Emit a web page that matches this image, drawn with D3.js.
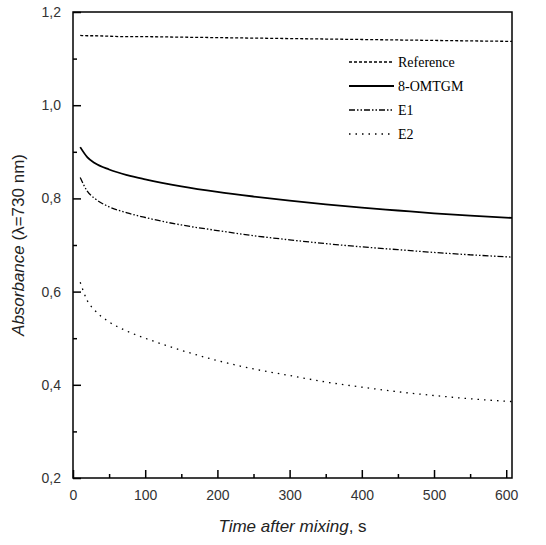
<!DOCTYPE html>
<html><head><meta charset="utf-8">
<script src="https://cdn.jsdelivr.net/npm/d3@7"></script>
<style>body{margin:0;background:#fff}</style>
</head><body>
<svg id="chart" width="546" height="545"></svg>
<script>
// values
const times = [10, 20, 30, 50, 75, 100, 150, 200, 250, 300, 350, 400, 450, 500, 550, 608]
const reference = [1.150, 1.149, 1.149, 1.148, 1.147, 1.147, 1.146, 1.145, 1.144, 1.143, 1.142, 1.141, 1.140, 1.139, 1.138, 1.137]
const omtgm = [0.910, 0.888, 0.876, 0.862, 0.850, 0.841, 0.826, 0.814, 0.804, 0.795, 0.787, 0.780, 0.774, 0.768, 0.763, 0.758]
const e1 = [0.845, 0.815, 0.800, 0.782, 0.769, 0.759, 0.743, 0.731, 0.720, 0.711, 0.703, 0.696, 0.690, 0.684, 0.679, 0.674]
const e2 = [0.620, 0.580, 0.560, 0.535, 0.515, 0.500, 0.474, 0.452, 0.434, 0.420, 0.406, 0.395, 0.385, 0.377, 0.370, 0.364]
const xTicks = [0, 100, 200, 300, 400, 500, 600]
const yTicks = [0.2, 0.4, 0.6, 0.8, 1.0, 1.2]

const series = [
    {name: 'Reference', values: reference, dash: '3,2'},
    {name: '8-OMTGM', values: omtgm, dash: null},
    {name: 'E1', values: e1, dash: '6,2,1.5,2,1.5,2'},
    {name: 'E2', values: e2, dash: '1.5,5'}
]

const svg = d3.select('#chart')
const mLeft = 73, mRight = 512, mTop = 12, mBottom = 478

const x = d3.scaleLinear().domain([0, 608]).range([mLeft, mRight])
const y = d3.scaleLinear().domain([0.2, 1.2]).range([mBottom, mTop])
const fmt = d => d3.format('.1f')(d).replace('.', ',')

svg.append('rect')
    .attr('x', mLeft).attr('y', mTop)
    .attr('width', mRight - mLeft).attr('height', mBottom - mTop)
    .attr('fill', 'none').attr('stroke', '#000').attr('stroke-width', 1.5)

const xAxis = svg.append('g').attr('transform', `translate(0,${mBottom})`)
    .call(d3.axisBottom(x).tickValues(xTicks).tickSize(-8).tickPadding(12).tickFormat(d3.format('d')))
xAxis.append('g').call(d3.axisBottom(x).tickValues([50, 150, 250, 350, 450, 550]).tickSize(-4).tickFormat(''))
const yAxis = svg.append('g').attr('transform', `translate(${mLeft},0)`)
    .call(d3.axisLeft(y).tickValues(yTicks).tickSize(-8).tickPadding(12).tickFormat(fmt))
yAxis.append('g').call(d3.axisLeft(y).tickValues([0.3, 0.5, 0.7, 0.9, 1.1]).tickSize(-4).tickFormat(''))

svg.selectAll('.domain').remove()
svg.selectAll('.tick line').attr('stroke-width', 1.5)
svg.selectAll('.tick text').attr('font-family', 'Liberation Sans, Arial, sans-serif').attr('font-size', 14).attr('fill', '#333')

const line = d3.line().x((d, i) => x(times[i])).y(d => y(d)).curve(d3.curveMonotoneX)

svg.selectAll('path.series').data(series).enter().append('path')
    .attr('class', 'series')
    .attr('d', s => line(s.values))
    .attr('fill', 'none').attr('stroke', '#000')
    .attr('stroke-width', s => s.dash ? 1.3 : 1.8)
    .attr('stroke-dasharray', s => s.dash)

const legend = svg.append('g')
series.forEach((s, i) => {
    const ly = 62 + i * 24
    legend.append('line').attr('x1', 349).attr('x2', 394).attr('y1', ly).attr('y2', ly)
        .attr('stroke', '#000').attr('stroke-width', s.dash ? 1.3 : 1.8).attr('stroke-dasharray', s.dash)
    legend.append('text').attr('x', 398).attr('y', ly + 5).text(s.name)
        .attr('font-family', 'Liberation Serif, Times New Roman, serif').attr('font-size', 14)
})

svg.append('text').attr('x', (mLeft + mRight) / 2).attr('y', 532).attr('text-anchor', 'middle')
    .attr('font-family', 'Liberation Sans, Arial, sans-serif').attr('font-size', 17).attr('fill', '#222')
    .call(t => { t.append('tspan').attr('font-style', 'italic').text('Time after mixing'); t.append('tspan').text(', s') })

svg.append('text').attr('transform', `translate(24,${(mTop + mBottom) / 2}) rotate(-90)`).attr('text-anchor', 'middle')
    .attr('font-family', 'Liberation Sans, Arial, sans-serif').attr('font-size', 17).attr('fill', '#222')
    .call(t => { t.append('tspan').attr('font-style', 'italic').text('Absorbance'); t.append('tspan').text(' (λ=730 nm)') })
</script>
</body></html>
